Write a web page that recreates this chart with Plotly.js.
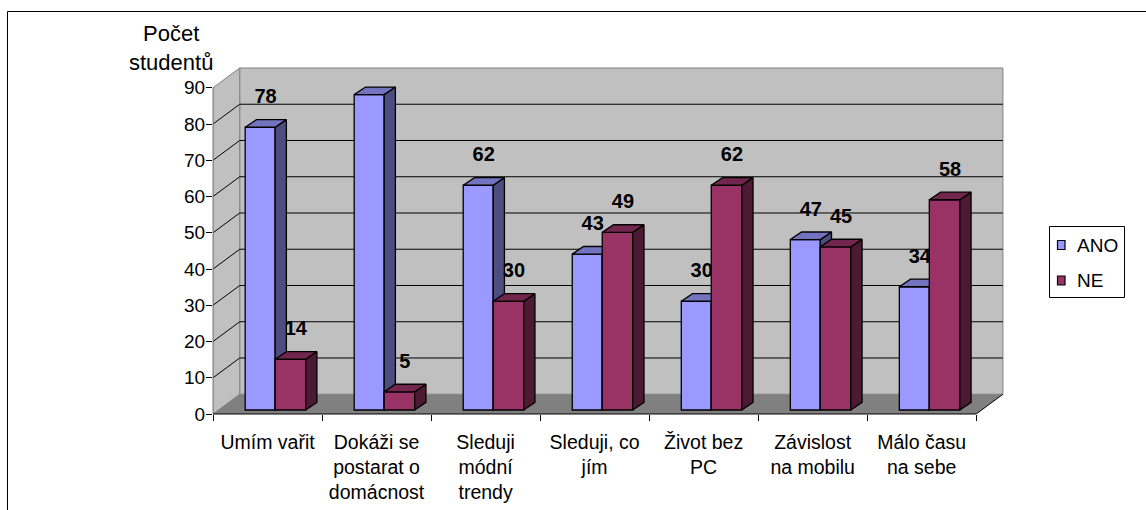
<!DOCTYPE html>
<html>
<head>
<meta charset="utf-8">
<script src="https://cdn.plot.ly/plotly-3.0.1.min.js"></script>
<style>html,body{margin:0;padding:0;background:#fff;}#chart{width:1146px;height:510px;}</style>
</head>
<body>
<div id="chart"></div>
<script>
// ---- data ----
const categories = ['Umím vařit', 'Dokáži se<br>postarat o<br>domácnost', 'Sleduji<br>módní<br>trendy', 'Sleduji, co<br>jím', 'Život bez<br>PC', 'Závislost<br>na mobilu', 'Málo času<br>na sebe'];
const seriesNames = ['ANO', 'NE'];
const anoValues = [78, 87, 62, 43, 30, 47, 34];
const neValues = [14, 5, 30, 49, 62, 45, 58];
const yTickValues = [0, 10, 20, 30, 40, 50, 60, 70, 80, 90];
const yAxisTitle = 'Počet<br>studentů';

// ---- geometry / style ----
const FONT = 'Liberation Sans, Arial, sans-serif';
const L = 213, R = 142, T = 66, B = 96, WIDTH = 1146, HEIGHT = 510;
const PW = WIDTH - L - R, PH = HEIGHT - T - B;
const XR = [-0.5, 6.755], YR = [0, 96];
const YMAX = 90;
const DX = 0.245, DY = 5.45;       // full depth of the 3D box (data units)
const BASE = 1.1;                   // bar front plane lift
const BDX = 0.103, BDY = 2.1;       // bar depth
const ANO_OFF = -0.205, ANO_W = 0.275;
const NE_OFF = 0.07, NE_W = 0.28;
const LABEL_DY = 8.0, LABEL_DX = 0.05;
const COL = {
  anoFront: '#9999FF', anoTop: '#7373C0', anoSide: '#4D4D80',
  neFront: '#993366', neTop: '#73264D', neSide: '#4D1A33',
  wall: '#C0C0C0', floor: '#808080', edge: '#808080'
};
const px2x = p => (p - L) / PW;
const py2y = p => (T + PH - p) / PH;
const idx = categories.map((_, i) => i);
const nCat = categories.length;
const xLeft = -0.5, xRight = nCat - 0.5;

function topFace(vals, off, w) {
  const xs = [], ys = [];
  vals.forEach((v, i) => {
    const xl = i + off, xr = xl + w, y = BASE + v;
    xs.push(xl, xr, xr + BDX, xl + BDX, xl, null);
    ys.push(y, y, y + BDY, y + BDY, y, null);
  });
  return {xs, ys};
}
function sideFace(vals, off, w) {
  const xs = [], ys = [];
  vals.forEach((v, i) => {
    const xr = i + off + w;
    xs.push(xr, xr + BDX, xr + BDX, xr, xr, null);
    ys.push(BASE, BASE + BDY, BASE + v + BDY, BASE + v, BASE, null);
  });
  return {xs, ys};
}
function faceTrace(f, color, xa, ya) {
  return {type: 'scatter', mode: 'lines', x: f.xs, y: f.ys, xaxis: xa, yaxis: ya,
    fill: 'toself', fillcolor: color, line: {color: '#000', width: 1.3},
    hoverinfo: 'skip', showlegend: false, connectgaps: false};
}
function barTrace(vals, off, w, color, name, xa, ya) {
  return {type: 'bar', name: name, x: idx, y: vals, base: BASE, offset: off, width: w,
    xaxis: xa, yaxis: ya, marker: {color: color, line: {color: '#000', width: 1.3}},
    hoverinfo: 'skip', showlegend: false};
}
function labelTrace(vals, off, w, xa, ya) {
  return {type: 'scatter', mode: 'text', x: idx.map(i => i + off + w / 2 + LABEL_DX),
    y: vals.map(v => BASE + v + LABEL_DY), text: vals.map(String), xaxis: xa, yaxis: ya,
    textposition: 'middle center', textfont: {family: FONT, size: 20, color: '#000', weight: 'bold'},
    hoverinfo: 'skip', showlegend: false, cliponaxis: false};
}

const data = [
  barTrace(anoValues, ANO_OFF, ANO_W, COL.anoFront, seriesNames[0], 'x', 'y'),
  faceTrace(sideFace(anoValues, ANO_OFF, ANO_W), COL.anoSide, 'x', 'y'),
  faceTrace(topFace(anoValues, ANO_OFF, ANO_W), COL.anoTop, 'x', 'y'),
  labelTrace(anoValues, ANO_OFF, ANO_W, 'x', 'y'),
  barTrace(neValues, NE_OFF, NE_W, COL.neFront, seriesNames[1], 'x2', 'y2'),
  faceTrace(sideFace(neValues, NE_OFF, NE_W), COL.neSide, 'x2', 'y2'),
  faceTrace(topFace(neValues, NE_OFF, NE_W), COL.neTop, 'x2', 'y2'),
  labelTrace(neValues, NE_OFF, NE_W, 'x2', 'y2')
];

// ---- 3D box (walls, floor, grid) ----
const shapes = [];
// outer chart border
shapes.push({type: 'rect', xref: 'paper', yref: 'paper', x0: px2x(7.5), x1: px2x(1170), y0: py2y(530), y1: py2y(11.5),
  line: {color: '#000', width: 1}, fillcolor: 'rgba(0,0,0,0)', layer: 'below'});
// back wall
shapes.push({type: 'rect', xref: 'x', yref: 'y', x0: xLeft + DX, x1: xRight + DX, y0: DY, y1: YMAX + DY,
  fillcolor: COL.wall, line: {color: COL.edge, width: 1}, layer: 'below'});
// side wall
shapes.push({type: 'path', xref: 'x', yref: 'y',
  path: `M${xLeft},0 L${xLeft},${YMAX} L${xLeft + DX},${YMAX + DY} L${xLeft + DX},${DY} Z`,
  fillcolor: COL.wall, line: {color: COL.edge, width: 1}, layer: 'below'});
// floor
shapes.push({type: 'path', xref: 'x', yref: 'y',
  path: `M${xLeft},0 L${xRight},0 L${xRight + DX},${DY} L${xLeft + DX},${DY} Z`,
  fillcolor: COL.floor, line: {width: 0}, layer: 'below'});
// gridlines: back wall horizontals + side wall diagonals
yTickValues.filter(v => v > 0 && v < YMAX).forEach(v => {
  shapes.push({type: 'line', xref: 'x', yref: 'y', x0: xLeft + DX, x1: xRight + DX, y0: v + DY, y1: v + DY,
    line: {color: '#000', width: 1}, layer: 'below'});
  shapes.push({type: 'line', xref: 'x', yref: 'y', x0: xLeft, x1: xLeft + DX, y0: v, y1: v + DY,
    line: {color: '#000', width: 1}, layer: 'below'});
});
// floor right edge
shapes.push({type: 'line', xref: 'x', yref: 'y', x0: xRight, x1: xRight + DX, y0: 0, y1: DY,
  line: {color: '#000', width: 1}, layer: 'below'});
// front vertical edge (value axis line)
shapes.push({type: 'line', xref: 'paper', yref: 'y', x0: 0, x1: 0, y0: 0, y1: YMAX,
  line: {color: COL.edge, width: 1}, layer: 'above'});
// category axis line
shapes.push({type: 'line', xref: 'x', yref: 'paper', x0: xLeft, x1: xRight, y0: 0, y1: 0,
  line: {color: '#000', width: 1}, layer: 'above'});

// ---- legend (manual, Excel-like) ----
const legendItems = [
  {name: seriesNames[0], color: COL.anoFront, cy: 245},
  {name: seriesNames[1], color: COL.neFront, cy: 280.5}
];
shapes.push({type: 'rect', xref: 'paper', yref: 'paper', x0: px2x(1049.5), x1: px2x(1124.5), y0: py2y(297.5), y1: py2y(226.5),
  fillcolor: '#fff', line: {color: '#000', width: 1}, layer: 'above'});
const annotations = [];
legendItems.forEach(it => {
  shapes.push({type: 'rect', xref: 'paper', yref: 'paper', x0: px2x(1057.5), x1: px2x(1065), y0: py2y(it.cy + 4.5), y1: py2y(it.cy - 4.5),
    fillcolor: it.color, line: {color: '#000', width: 1.2}, layer: 'above'});
  annotations.push({xref: 'paper', yref: 'paper', x: px2x(1075), y: py2y(it.cy), xanchor: 'left', yanchor: 'middle',
    text: it.name, showarrow: false, font: {family: FONT, size: 19, color: '#000'}});
});
// value axis title
annotations.push({xref: 'paper', yref: 'paper', x: px2x(171), y: py2y(48), xanchor: 'center', yanchor: 'middle',
  text: yAxisTitle, showarrow: false, font: {family: FONT, size: 22, color: '#000'}});

const layout = {
  width: WIDTH, height: HEIGHT, autosize: false,
  margin: {l: L, r: R, t: T, b: B, pad: 0},
  paper_bgcolor: '#fff', plot_bgcolor: 'rgba(0,0,0,0)',
  showlegend: false, barmode: 'overlay', hovermode: false,
  font: {family: FONT, color: '#000'},
  xaxis: {range: XR, tickmode: 'array', tickvals: idx, ticktext: categories, ticks: '',
    showgrid: false, zeroline: false, showline: false, ticklabelstandoff: 14,
    tickfont: {family: FONT, size: 19.5, color: '#000'}, fixedrange: true},
  yaxis: {range: YR, tickmode: 'array', tickvals: yTickValues, ticktext: yTickValues.map(String),
    ticks: 'outside', ticklen: 6, tickwidth: 1, tickcolor: '#000', ticklabelstandoff: -3,
    showgrid: false, zeroline: false, showline: false,
    tickfont: {family: FONT, size: 19, color: '#000'}, fixedrange: true},
  xaxis2: {range: XR, overlaying: 'x', anchor: 'y2', tickmode: 'array',
    tickvals: idx.concat([nCat]).map(i => i - 0.5), ticks: 'outside', ticklen: 6, tickwidth: 1, tickcolor: '#000',
    showticklabels: false, showgrid: false, zeroline: false, showline: false, fixedrange: true},
  yaxis2: {range: YR, overlaying: 'y', anchor: 'x2', showticklabels: false, ticks: '',
    showgrid: false, zeroline: false, showline: false, fixedrange: true},
  shapes: shapes,
  annotations: annotations
};

Plotly.newPlot('chart', data, layout, {staticPlot: true, displayModeBar: false});
</script>
</body>
</html>
